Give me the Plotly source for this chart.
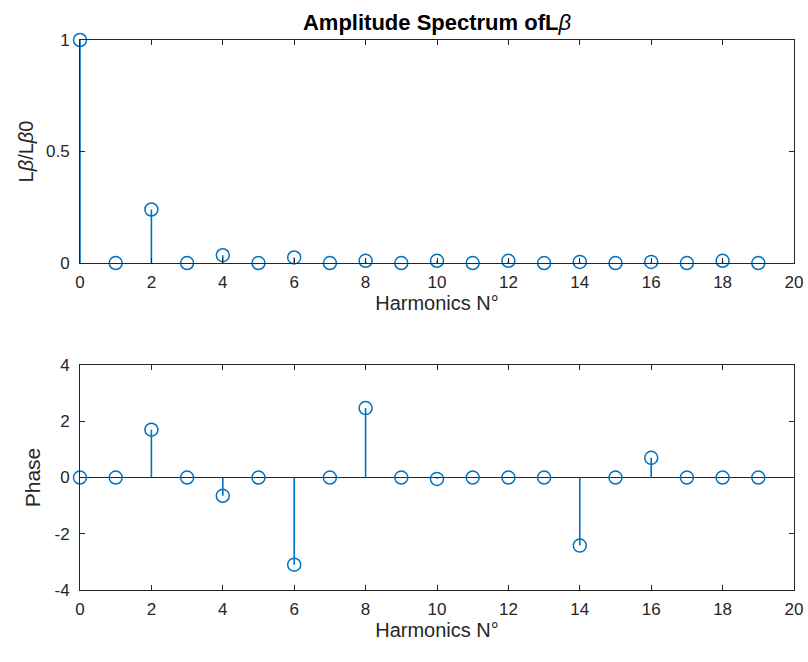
import plotly.graph_objects as go
from plotly.subplots import make_subplots

harmonics = list(range(20))
amplitude = [1.0, 0.0, 0.24, 0.0, 0.035, 0.0, 0.025, 0.0, 0.01, 0.0,
             0.01, 0.0, 0.01, 0.0, 0.005, 0.0, 0.005, 0.0, 0.01, 0.0]
phase = [0.0, 0.0, 1.7, 0.0, -0.65, 0.0, -3.1, 0.0, 2.47, 0.0,
         -0.05, 0.0, 0.0, 0.0, -2.42, 0.0, 0.7, 0.0, 0.0, 0.0]

x_ticks = list(range(0, 21, 2))
amp_ticks = [0, 0.5, 1]
amp_labels = ["0", "0.5", "1"]
phase_ticks = [-4, -2, 0, 2, 4]
phase_labels = ["-4", "-2", "0", "2", "4"]

BLUE = "#0072BD"
AX = "#262626"
FONT = "Liberation Sans, Arial, sans-serif"

fig = make_subplots(rows=2, cols=1, vertical_spacing=0.1)


def stems(xs, ys):
    sx, sy = [], []
    for x, y in zip(xs, ys):
        sx += [x, x, None]
        sy += [0, y, None]
    return sx, sy


for row, vals in ((1, amplitude), (2, phase)):
    sx, sy = stems(harmonics, vals)
    fig.add_trace(go.Scatter(x=sx, y=sy, mode="lines",
                             line=dict(color=BLUE, width=1.6),
                             hoverinfo="skip", showlegend=False), row=row, col=1)
    fig.add_trace(go.Scatter(x=harmonics, y=vals, mode="markers",
                             marker=dict(symbol="circle-open", size=13,
                                         color=BLUE, line=dict(width=1.5)),
                             cliponaxis=False, showlegend=False), row=row, col=1)

axis_common = dict(showline=True, linecolor=AX, linewidth=1, mirror="ticks",
                   ticks="inside", ticklen=5, tickcolor=AX, tickwidth=1,
                   showgrid=False, automargin=False,
                   tickfont=dict(family=FONT, size=17, color=AX))

fig.update_xaxes(range=[0, 20], tickvals=x_ticks, zeroline=False,
                 ticklabelstandoff=4, ticklabeloverflow="allow",
                 title=dict(text="Harmonics N°", font=dict(family=FONT, size=20, color=AX),
                            standoff=0),
                 **axis_common)
fig.update_yaxes(ticklabelstandoff=6, **axis_common)
fig.update_yaxes(range=[0, 1], tickvals=amp_ticks, ticktext=amp_labels,
                 zeroline=False,
                 title=dict(text="L<i>β</i>/L<i>β</i>0", font=dict(family=FONT, size=20, color=AX),
                            standoff=6),
                 row=1, col=1)
fig.update_yaxes(range=[-4, 4], tickvals=phase_ticks, ticktext=phase_labels,
                 zeroline=True, zerolinecolor=AX, zerolinewidth=1,
                 title=dict(text="Phase", font=dict(family=FONT, size=21, color=AX),
                            standoff=8),
                 row=2, col=1)

fig.update_layout(
    width=808, height=662,
    margin=dict(l=80, r=14, t=40, b=72),
    paper_bgcolor="white", plot_bgcolor="white",
    title=dict(text="<b>Amplitude Spectrum ofL</b><i>β</i>", x=(80 + 714 / 2) / 808,
               xanchor="center", y=1 - 22 / 662, yanchor="middle",
               font=dict(family=FONT, size=22, color="#000000")),
)
fig.update_layout(yaxis=dict(domain=[0.5945, 1.0]), yaxis2=dict(domain=[0.0, 0.409]))

fig.write_html("out.html",
               config={"displayModeBar": False},
               post_script="document.body.style.margin='0';"
                           "document.body.style.overflow='hidden';")
